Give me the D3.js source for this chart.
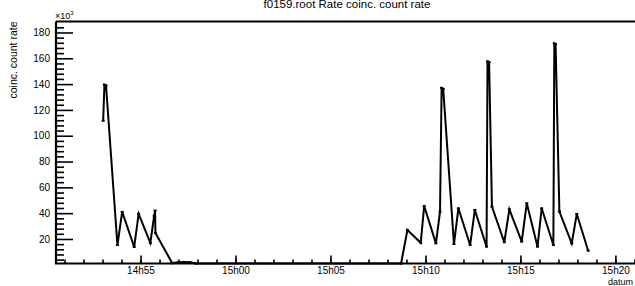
<!DOCTYPE html>
<html>
<head>
<meta charset="utf-8">
<script src="https://cdn.jsdelivr.net/npm/d3@7"></script>
<style>
  body { margin: 0; background: #fff; }
  svg { display: block; font-family: "Liberation Sans", Arial, Helvetica, sans-serif; }
</style>
</head>
<body>
<svg id="chart" width="635" height="286"></svg>
<script>
// sample times (hh:mm:ss) and coinc. count rate (x10^3)
const times = [
  "14:53:02", "14:53:06", "14:53:11", "14:53:47", "14:54:02", "14:54:40",
  "14:54:54", "14:55:31", "14:55:43", "14:55:46", "14:55:47", "14:56:40",
  "14:56:58", "14:57:17", "14:57:36", "14:57:55",
  "15:08:43", "15:09:03", "15:09:45", "15:09:56", "15:10:33", "15:10:46",
  "15:10:51", "15:10:56", "15:11:30", "15:11:44", "15:12:21", "15:12:36",
  "15:13:13", "15:13:16", "15:13:21", "15:13:30", "15:14:09", "15:14:25",
  "15:15:04", "15:15:20", "15:15:54", "15:16:07", "15:16:44", "15:16:47",
  "15:16:51", "15:17:03", "15:17:42", "15:17:58", "15:18:34"
];
const rates = [
  111.6, 139.5, 139.0, 15.3, 41.0, 13.8,
  39.4, 16.9, 37.9, 42.0, 24.7, 1.3,
  1.8, 2.1, 1.9, 1.0,
  1.0, 27.0, 17.1, 45.6, 16.6, 41.2,
  137.0, 136.3, 16.1, 43.8, 15.3, 42.5,
  14.0, 157.5, 157.0, 45.1, 17.5, 43.0,
  17.9, 47.7, 14.0, 43.8, 15.3, 171.5,
  171.0, 41.2, 16.6, 39.4, 10.9
];
const yTicks = [20, 40, 60, 80, 100, 120, 140, 160, 180];
const xRange = ["14:50:33", "15:21:05"];
const yRange = [1, 188.5];

const parse = d3.timeParse("%H:%M:%S");
const data = times.map((t, i) => ({ t: parse(t), v: rates[i] }));

const pLeft = 56, pRight = 636, pTop = 21.5, pBottom = 263.5;
const svg = d3.select("#chart");

const x = d3.scaleTime().domain(xRange.map(parse)).range([pLeft, pRight]);
const y = d3.scaleLinear().domain(yRange).range([pBottom, pTop]);

// y axis: major + minor ticks pointing inside
const yMinor = d3.range(4, 188, 4).filter(v => v % 20 !== 0);
svg.append("g")
    .attr("transform", `translate(${pLeft},0)`)
    .call(d3.axisLeft(y).tickValues(yMinor).tickFormat("").tickSize(-8))
    .call(g => g.select(".domain").remove());
svg.append("g")
    .attr("transform", `translate(${pLeft},0)`)
    .call(d3.axisLeft(y).tickValues(yTicks).tickSize(-17).tickPadding(6))
    .call(g => g.select(".domain").remove())
    .selectAll("text").attr("font-size", 10).attr("fill", "#000");

// x axis
svg.append("g")
    .attr("transform", `translate(0,${pBottom})`)
    .call(d3.axisBottom(x).ticks(d3.timeMinute.every(1)).tickFormat("").tickSize(-4))
    .call(g => g.select(".domain").remove());
svg.append("g")
    .attr("transform", `translate(0,${pBottom})`)
    .call(d3.axisBottom(x).ticks(d3.timeMinute.every(5)).tickFormat(d3.timeFormat("%Hh%M")).tickSize(-8).tickPadding(3))
    .call(g => g.select(".domain").remove())
    .selectAll("text").attr("font-size", 10).attr("fill", "#000");

svg.selectAll(".tick line").attr("stroke", "#000").attr("stroke-width", 1.6);

// frame
svg.append("path")
    .attr("d", `M${pLeft},${pTop}H${pRight}M${pLeft},${pTop}V${pBottom}H${pRight}`)
    .attr("fill", "none").attr("stroke", "#000").attr("stroke-width", 2.2);

// graph
const line = d3.line().x(d => x(d.t)).y(d => y(d.v));
svg.append("path")
    .datum(data)
    .attr("d", line)
    .attr("fill", "none")
    .attr("stroke", "#000")
    .attr("stroke-width", 2)
    .attr("stroke-linejoin", "miter");
svg.selectAll(".pt")
    .data(data)
    .join("rect")
    .attr("class", "pt")
    .attr("x", d => x(d.t) - 1.5)
    .attr("y", d => y(d.v) - 1)
    .attr("width", 3)
    .attr("height", 2)
    .attr("fill", "#000");

// texts
svg.append("text").attr("x", 347).attr("y", 8).attr("text-anchor", "middle")
    .attr("font-size", 11.5).text("f0159.root Rate coinc. count rate");
const mult = svg.append("text").attr("x", 55).attr("y", 19).attr("font-size", 9);
mult.append("tspan").text("\u00d710");
mult.append("tspan").attr("font-size", 6).attr("dy", -4).text("3");
svg.append("text").attr("transform", `translate(17,${pTop})rotate(-90)`)
    .attr("text-anchor", "end").attr("font-size", 10.5).text("coinc. count rate");
svg.append("text").attr("x", 633).attr("y", 285).attr("text-anchor", "end")
    .attr("font-size", 9).text("datum");
</script>
</body>
</html>
